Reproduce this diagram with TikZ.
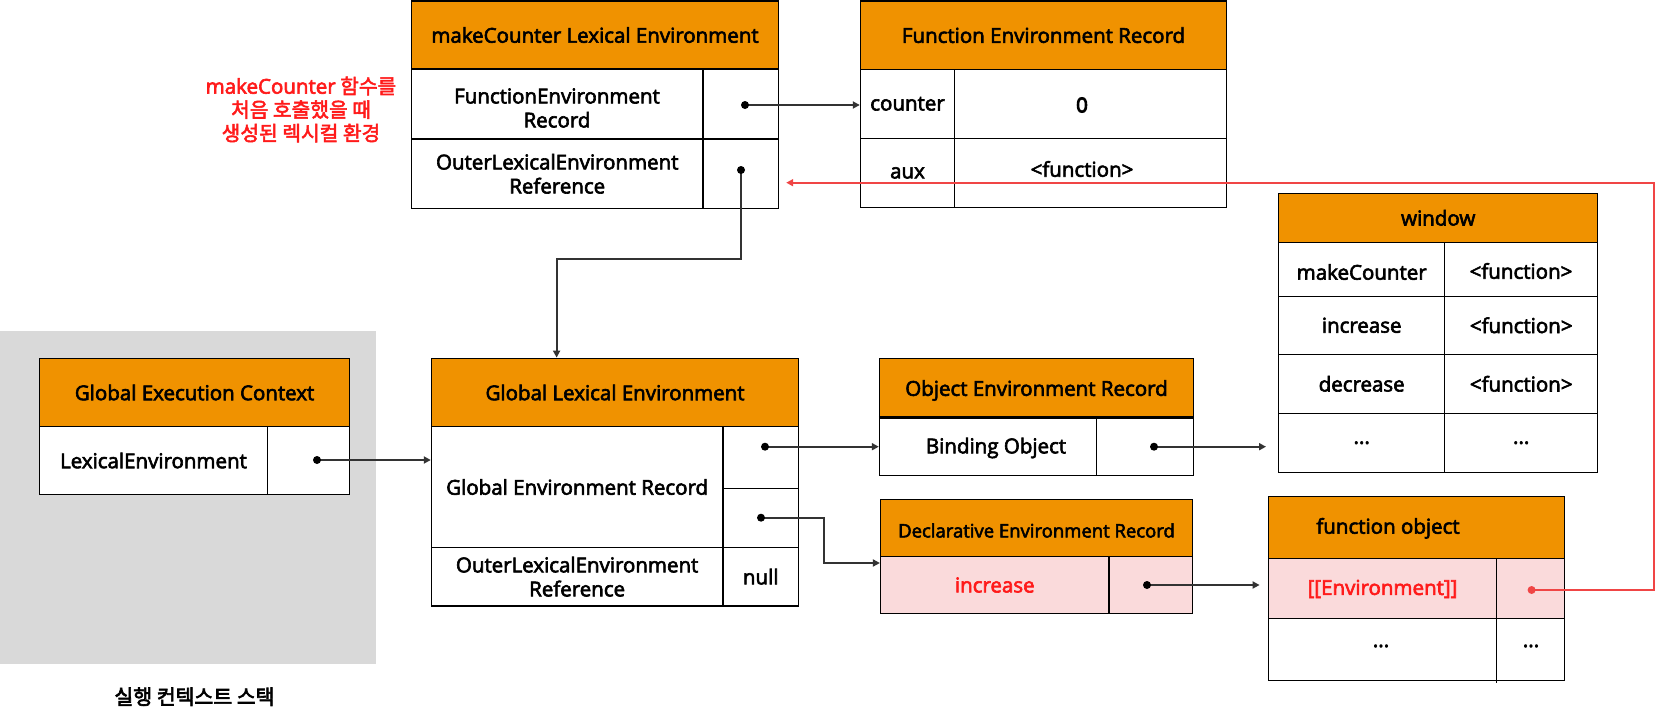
\documentclass[tikz,border=0pt]{standalone}
\usepackage{fontspec}
\usetikzlibrary{arrows.meta,calc}
\newfontfamily\mfont{Open Sans}[FakeBold=3]
\newfontfamily\hfont{Open Sans}[FakeBold=4.5]
\newfontfamily\kfont{Noto Sans CJK KR}[FakeBold=2.5]
\newfontfamily\kbfont{Noto Sans CJK KR}[FakeBold=3.2]
\definecolor{orange1}{HTML}{F09200}
\definecolor{pink1}{HTML}{FADADB}
\definecolor{red1}{HTML}{F04545}
\definecolor{redtxt}{HTML}{FF1A1A}
\definecolor{line1}{HTML}{333333}
\definecolor{gray1}{HTML}{D9D9D9}
\tikzset{
 cell/.style={draw=black, line width=1.4pt, inner sep=0pt, align=center},
 hdr/.style={cell, fill=orange1},
 pinkc/.style={cell, fill=pink1},
 txt/.style={inner sep=0pt, align=center},
 conn/.style={draw=line1, line width=2pt, -{Triangle[length=7pt,width=7pt]}},
 redconn/.style={draw=red1, line width=2pt, -{Triangle[length=7pt,width=7pt]}},
}
% \mkcell[extra]{style}{name}{x1}{y1}{x2}{y2}{text}
\newcommand{\mkcell}[8][]{%
 \pgfmathsetmacro\cx{(#4+#6)/2}\pgfmathsetmacro\cy{(#5+#7)/2}%
 \pgfmathsetmacro\cw{#6-#4}\pgfmathsetmacro\ch{#7-#5}%
 \node[#2, minimum width=\cw pt, minimum height=\ch pt, #1] (#3) at (\cx,\cy) {#8};}
\begin{document}
\begin{tikzpicture}[x=1pt,y=-1pt,font=\mfont\fontsize{20.5}{24}\selectfont]
\useasboundingbox (0,0) rectangle (1656,709);
% execution context stack background
\fill[gray1] (0,330.5) rectangle (376,663.5);
\node[txt,font=\kbfont\fontsize{20.5}{22}\selectfont] (stack) at (194.5,696.7) {실행 컨텍스트 스택};

% red note
\node[txt,text=redtxt,font=\kfont\fontsize{20.3}{23.5}\selectfont] (note) at (301,109.5) {{\mfont\fontsize{20.5}{23.5}\selectfont makeCounter} 함수를\\처음 호출했을 때\\생성된 렉시컬 환경};

% makeCounter Lexical Environment
\mkcell{hdr}{mcH}{411.5}{1}{778.5}{69}{makeCounter Lexical Environment}
\mkcell{cell}{mcR1L}{411.5}{69}{703}{139}{}
\node[txt] (mcR1Lt) at (557,108) {FunctionEnvironment\\Record};
\mkcell{cell}{mcR1R}{703}{69}{778.5}{139}{}
\mkcell{cell}{mcR2L}{411.5}{139}{703}{208.5}{OuterLexicalEnvironment\\Reference}
\mkcell{cell}{mcR2R}{703}{139}{778.5}{208.5}{}

% Function Environment Record
\mkcell{hdr}{ferH}{860.5}{1}{1226.5}{69.3}{Function Environment Record}
\mkcell{cell}{ferC}{860.5}{69.3}{954.5}{138.3}{counter}
\mkcell{cell}{ferV}{954.5}{69.3}{1226.5}{138.3}{}
\node[txt,font=\hfont\fontsize{20.5}{23}\selectfont] (ferVt) at (1082,105) {0};
\mkcell{cell}{ferA}{860.5}{138.3}{954.5}{207.5}{aux}
\mkcell{cell}{ferF}{954.5}{138.3}{1226.5}{207.5}{}
\node[txt] (ferFt) at (1082,169) {<function>};

% window
\mkcell{hdr}{winH}{1278.7}{193.3}{1597.7}{242.3}{window}
\mkcell{cell}{win1L}{1278.7}{242.3}{1444.7}{296.3}{}
\node[txt] (win1Lt) at (1361.7,272) {makeCounter};
\mkcell{cell}{win1R}{1444.7}{242.3}{1597.7}{296.3}{}
\node[txt] (win1Rt) at (1521,271) {<function>};
\mkcell{cell}{win2L}{1278.7}{296.3}{1444.7}{354.3}{increase}
\mkcell{cell}{win2R}{1444.7}{296.3}{1597.7}{354.3}{<function>}
\mkcell{cell}{win3L}{1278.7}{354.3}{1444.7}{413.3}{decrease}
\mkcell{cell}{win3R}{1444.7}{354.3}{1597.7}{413.3}{<function>}
\mkcell{cell}{win4L}{1278.7}{413.3}{1444.7}{472.3}{...}
\mkcell{cell}{win4R}{1444.7}{413.3}{1597.7}{472.3}{...}

% Global Execution Context
\mkcell{hdr}{gecH}{39.7}{358.3}{349.4}{426.7}{Global Execution Context}
\mkcell[fill=white]{cell}{gecL}{39.7}{426.7}{267.3}{494.3}{LexicalEnvironment}
\mkcell[fill=white]{cell}{gecR}{267.3}{426.7}{349.4}{494.3}{}

% Global Lexical Environment
\mkcell{hdr}{gleH}{431.5}{358.3}{798.6}{426.7}{Global Lexical Environment}
\mkcell{cell}{gleG}{431.5}{426.7}{722.8}{547.3}{Global Environment Record}
\mkcell{cell}{gleP1}{722.8}{426.7}{798.6}{488.3}{}
\mkcell{cell}{gleP2}{722.8}{488.3}{798.6}{547.3}{}
\mkcell{cell}{gleO}{431.5}{547.3}{722.8}{606}{OuterLexicalEnvironment\\Reference}
\mkcell{cell}{gleN}{722.8}{547.3}{798.6}{606}{null}

% Object Environment Record
\mkcell{hdr}{oerH}{879.5}{358.3}{1193.3}{417}{}
\node[txt] (oerHt) at (1036.5,390.5) {Object Environment Record};
\mkcell{cell}{oerL}{879.5}{417}{1096.5}{475.3}{}
\node[txt] (oerLt) at (996,448) {Binding Object};
\mkcell{cell}{oerR}{1096.5}{417}{1193.3}{475.3}{}
\draw[line width=3pt] (oerH.south west) -- (oerH.south east);

% Declarative Environment Record
\mkcell{hdr}{derH}{880.6}{499.3}{1192.3}{556.7}{}
\node[txt,font=\mfont\fontsize{18.5}{20}\selectfont] (derHt) at (1036.5,530.5) {Declarative Environment Record};
\mkcell[text=redtxt]{pinkc}{derL}{880.6}{556.7}{1109}{613.3}{increase}
\mkcell{pinkc}{derR}{1109}{556.7}{1192.3}{613.3}{}

% function object
\mkcell{hdr}{foH}{1268.3}{496.3}{1564.4}{558.7}{}
\node[txt] (foHt) at (1388,528.3) {function object};
\mkcell{pinkc}{foR1}{1268.3}{558.7}{1564.4}{618.3}{}
\mkcell{cell}{foR2}{1268.3}{618.3}{1564.4}{680.3}{}
\coordinate (foDiv) at (1496.7,683);
\draw[line width=0.8pt] (foDiv |- foR1.north) -- (foDiv);
\node[txt,text=redtxt] (foEnv) at (1382.5,589) {[[Environment]]};
\node[txt] (foD1) at (1381,646) {...};
\node[txt] (foD2) at (1531,646) {...};

% dots
\coordinate (d1) at (745,105);
\coordinate (d2) at (741,170);
\coordinate (d3) at (317,460);
\coordinate (d4) at (765,446.7);
\coordinate (d5) at (761,517.7);
\coordinate (d6) at (1154,446.7);
\coordinate (d7) at (1147,585);
\coordinate (d8) at (1531.6,590);
\coordinate (bend1) at (556.6,258.7);
\coordinate (bend2) at (823.7,563);
\coordinate (redturn) at (1654,182.7);

% connectors
\draw[conn] (d1) -- (d1 -| ferC.west);
\draw[conn] (d2) |- (bend1) -- (bend1 |- gleH.north);
\draw[conn] (d3) -- (d3 -| gleG.west);
\draw[conn] (d4) -- (d4 -| oerL.west);
\draw[conn] (d5) -- (d5 -| bend2) -- (bend2) -- (bend2 -| derL.west);
\draw[conn,shorten >=12pt] (d6) -- (d6 -| win4L.west);
\draw[conn,shorten >=8pt] (d7) -- (d7 -| foR1.west);
\draw[redconn,shorten >=7pt] (d8) -- (d8 -| redturn) -- (redturn) -- (redturn -| mcR2R.east);

\foreach \d in {d1,d2,d3,d4,d5,d6,d7} \fill[black] (\d) circle (4);
\fill[red1] (d8) circle (4);
\end{tikzpicture}
\end{document}
